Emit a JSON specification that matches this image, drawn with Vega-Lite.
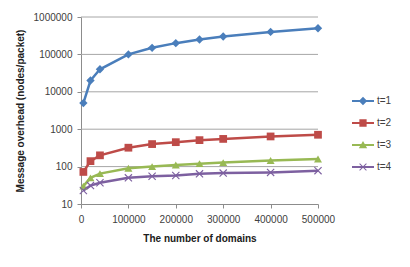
{
  "$schema": "https://vega.github.io/schema/vega-lite/v6.json",
  "autosize": {"type": "none"},
  "width": 237,
  "height": 187,
  "padding": {"left": 81, "top": 17, "right": 92, "bottom": 63},
  "background": "white",
  "config": {
    "font": "Liberation Sans",
    "view": {"stroke": null},
    "axis": {
      "labelFont": "Liberation Sans",
      "labelFontSize": 10,
      "labelColor": "#404040",
      "titleFont": "Liberation Sans",
      "titleFontSize": 10,
      "titleFontWeight": "bold",
      "titleColor": "#202020",
      "domainColor": "#8c8c8c",
      "tickColor": "#8c8c8c"
    }
  },
  "datasets": {
    "decades": [
      {"level": 100},
      {"level": 1000},
      {"level": 10000},
      {"level": 100000},
      {"level": 1000000}
    ]
  },
  "data": {
    "values": [
      {"domains": 5000, "overhead": 5000, "series": "t=1"},
      {"domains": 20000, "overhead": 20000, "series": "t=1"},
      {"domains": 40000, "overhead": 40000, "series": "t=1"},
      {"domains": 100000, "overhead": 100000, "series": "t=1"},
      {"domains": 150000, "overhead": 150000, "series": "t=1"},
      {"domains": 200000, "overhead": 200000, "series": "t=1"},
      {"domains": 250000, "overhead": 250000, "series": "t=1"},
      {"domains": 300000, "overhead": 300000, "series": "t=1"},
      {"domains": 400000, "overhead": 400000, "series": "t=1"},
      {"domains": 500000, "overhead": 500000, "series": "t=1"},
      {"domains": 5000, "overhead": 72, "series": "t=2"},
      {"domains": 20000, "overhead": 140, "series": "t=2"},
      {"domains": 40000, "overhead": 200, "series": "t=2"},
      {"domains": 100000, "overhead": 320, "series": "t=2"},
      {"domains": 150000, "overhead": 400, "series": "t=2"},
      {"domains": 200000, "overhead": 450, "series": "t=2"},
      {"domains": 250000, "overhead": 510, "series": "t=2"},
      {"domains": 300000, "overhead": 550, "series": "t=2"},
      {"domains": 400000, "overhead": 640, "series": "t=2"},
      {"domains": 500000, "overhead": 710, "series": "t=2"},
      {"domains": 5000, "overhead": 30, "series": "t=3"},
      {"domains": 20000, "overhead": 50, "series": "t=3"},
      {"domains": 40000, "overhead": 65, "series": "t=3"},
      {"domains": 100000, "overhead": 90, "series": "t=3"},
      {"domains": 150000, "overhead": 100, "series": "t=3"},
      {"domains": 200000, "overhead": 110, "series": "t=3"},
      {"domains": 250000, "overhead": 120, "series": "t=3"},
      {"domains": 300000, "overhead": 128, "series": "t=3"},
      {"domains": 400000, "overhead": 145, "series": "t=3"},
      {"domains": 500000, "overhead": 160, "series": "t=3"},
      {"domains": 5000, "overhead": 23, "series": "t=4"},
      {"domains": 20000, "overhead": 31, "series": "t=4"},
      {"domains": 40000, "overhead": 37, "series": "t=4"},
      {"domains": 100000, "overhead": 50, "series": "t=4"},
      {"domains": 150000, "overhead": 55, "series": "t=4"},
      {"domains": 200000, "overhead": 58, "series": "t=4"},
      {"domains": 250000, "overhead": 64, "series": "t=4"},
      {"domains": 300000, "overhead": 67, "series": "t=4"},
      {"domains": 400000, "overhead": 70, "series": "t=4"},
      {"domains": 500000, "overhead": 78, "series": "t=4"}
    ]
  },
  "layer": [
    {
      "data": {"name": "decades"},
      "mark": {"type": "rule", "color": "#a6a6a6", "strokeWidth": 1},
      "encoding": {
        "y": {
          "field": "level",
          "type": "quantitative",
          "scale": {"type": "log", "domain": [10, 1000000], "nice": false},
          "axis": {
            "title": "Message overhead (nodes/packet)",
            "values": [10, 100, 1000, 10000, 100000, 1000000],
            "format": "d",
            "grid": false,
            "labelOverlap": false,
            "labelFlush": false,
            "tickSize": 4,
            "labelPadding": 5,
            "titlePadding": 8
          }
        }
      }
    },
    {
      "encoding": {
        "x": {
          "field": "domains",
          "type": "quantitative",
          "scale": {"domain": [0, 500000], "nice": false},
          "axis": {
            "title": "The number of domains",
            "values": [0, 100000, 200000, 300000, 400000, 500000],
            "format": "d",
            "grid": false,
            "labelOverlap": false,
            "labelFlush": false,
            "tickSize": 4,
            "labelPadding": 6,
            "titlePadding": 9
          }
        },
        "y": {
          "field": "overhead",
          "type": "quantitative",
          "scale": {"type": "log", "domain": [10, 1000000], "nice": false},
          "axis": {
            "title": "Message overhead (nodes/packet)",
            "values": [10, 100, 1000, 10000, 100000, 1000000],
            "format": "d",
            "grid": false,
            "labelOverlap": false,
            "labelFlush": false,
            "tickSize": 4,
            "labelPadding": 5,
            "titlePadding": 8
          }
        },
        "color": {
          "field": "series",
          "type": "nominal",
          "scale": {
            "domain": ["t=1", "t=2", "t=3", "t=4"],
            "range": ["#4a7ebb", "#be4b48", "#98b954", "#7d60a0"]
          },
          "legend": {
            "title": null,
            "orient": "none",
            "legendX": 271,
            "legendY": 73,
            "symbolSize": 484,
            "symbolStrokeWidth": 0,
            "symbolOpacity": 1,
            "rowPadding": 6,
            "labelOffset": 3,
            "labelFont": "Liberation Sans",
            "labelFontSize": 10,
            "labelColor": "#404040",
            "encode": {
              "symbols": {
                "update": {
                  "fill": {"scale": "color", "field": "value"},
                  "fillOpacity": {"value": 1},
                  "strokeWidth": {"value": 0},
                  "shape": {
                    "signal": "datum.value === 't=1' ? 'M-1,-0.09H1V0.09H-1Z M0,-0.38L0.38,0L0,0.38L-0.38,0Z' : datum.value === 't=2' ? 'M-1,-0.09H1V0.09H-1Z M-0.33,-0.33H0.33V0.33H-0.33Z' : datum.value === 't=3' ? 'M-1,-0.09H1V0.09H-1Z M0,-0.36L0.38,0.3H-0.38Z' : 'M-1,-0.09H1V0.09H-1Z M-0.28,-0.34L0.34,0.28L0.28,0.34L-0.34,-0.28Z M-0.34,0.28L0.28,-0.34L0.34,-0.28L-0.28,0.34Z'"
                  }
                }
              }
            }
          }
        }
      },
      "layer": [
        {
          "mark": {"type": "line", "strokeWidth": 2.5}
        },
        {
          "transform": [{"filter": "datum.series === 't=1'"}],
          "mark": {"type": "point", "filled": true, "opacity": 1, "size": 70, "shape": "diamond"}
        },
        {
          "transform": [{"filter": "datum.series === 't=2'"}],
          "mark": {"type": "point", "filled": true, "opacity": 1, "size": 60, "shape": "square"}
        },
        {
          "transform": [{"filter": "datum.series === 't=3'"}],
          "mark": {"type": "point", "filled": true, "opacity": 1, "size": 64, "shape": "triangle-up"}
        },
        {
          "transform": [{"filter": "datum.series === 't=4'"}],
          "mark": {"type": "point", "filled": true, "opacity": 1, "size": 64, "shape": "M-0.8,-1L1,0.8L0.8,1L-1,-0.8Z M-1,0.8L0.8,-1L1,-0.8L-0.8,1Z"}
        }
      ]
    }
  ]
}
